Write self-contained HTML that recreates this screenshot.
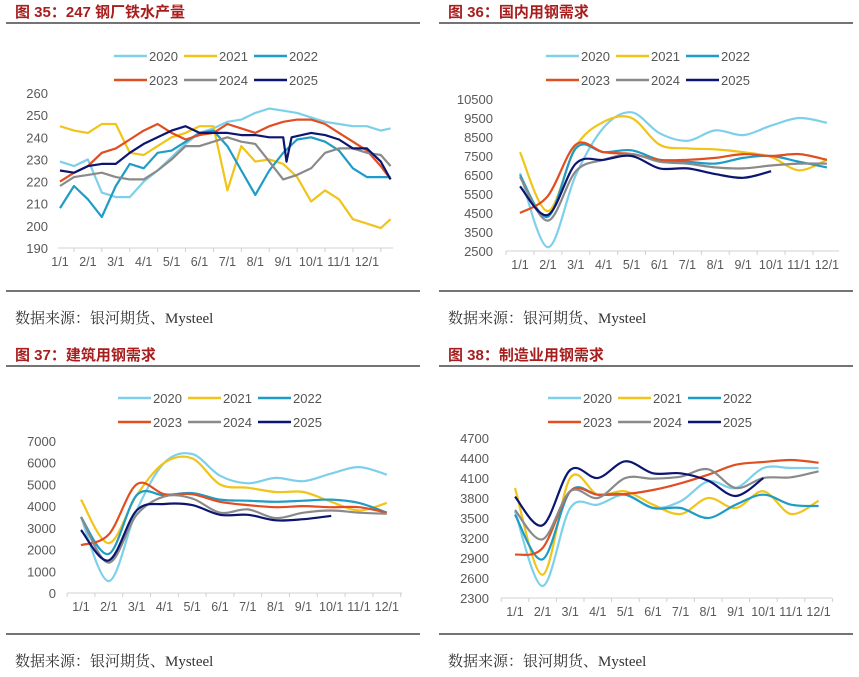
<!DOCTYPE html>
<html><head><meta charset="utf-8">
<style>
body{margin:0;background:#fff;width:859px;height:677px;overflow:hidden;font-family:"Liberation Sans","Noto Sans CJK SC",sans-serif}
svg{position:absolute;left:0;top:0}
</style></head><body>
<svg id="s" width="859" height="677" xmlns="http://www.w3.org/2000/svg"></svg>
<script>
// ---- data ----
const years = ["2020","2021","2022","2023","2024","2025"];
const colors = ["#7ED0EA","#F0C419","#1F9CC6","#E04E21","#8A8A8A","#0C1570"];
const monthLabels = ["1/1","2/1","3/1","4/1","5/1","6/1","7/1","8/1","9/1","10/1","11/1","12/1"];
// Panel 1 (half-month positions, in month units)
const p1X = [0,0.5,1,1.5,2,2.5,3,3.5,4,4.5,5,5.5,6,6.5,7,7.5,8,8.5,9,9.5,10,10.5,11,11.5,11.85];
const p1X25 = [0,0.5,1,1.5,2,2.5,3,3.5,4,4.5,5,5.5,6,6.5,7,7.5,8,8.12,8.3,9,9.5,10,10.5,11,11.5,11.85];
const p1_2020 = [229,227,230,215,213,213,220,225,231,237,242,244,247,248,251,253,252,251,249,247,246,245,245,243,244];
const p1_2021 = [245,243,242,246,246,233,232,236,240,242,245,245,216,236,229,230,228,222,211,216,212,203,201,199,203];
const p1_2022 = [208,218,212,204,218,228,226,233,234,238,242,243,236,225,214,225,233,239,240,238,234,226,222,222,222];
const p1_2023 = [220,224,227,233,235,239,243,246,242,239,241,242,246,244,242,245,247,248,248,246,242,238,234,227,221];
const p1_2024 = [218,222,223,224,222,221,221,225,230,236,236,238,240,238,237,229,221,223,226,233,235,235,233,232,227];
const p1_2025 = [225,224,227,228,228,233,237,240,243,245,242,242,242,241,241,240,240,229,240,242,241,239,235,235,229,221];
const p1Ticks = [190,200,210,220,230,240,250,260];
// Panel 2
const p2_2020 = [6600,2700,6500,9000,9800,8700,8300,8850,8600,9100,9500,9250];
const p2_2021 = [7700,4600,8000,9300,9500,8100,7900,7850,7700,7450,6750,7300];
const p2_2022 = [6500,4300,7900,7700,7800,7300,7200,7100,7400,7500,7200,6900];
const p2_2023 = [4500,5400,8100,7700,7600,7300,7300,7400,7600,7500,7600,7300];
const p2_2024 = [6400,4100,6700,7300,7600,7200,7100,6900,6850,7000,7100,7100];
const p2_2025 = [5900,4400,7100,7300,7500,6850,6850,6550,6350,6700];
const p2Ticks = [2500,3500,4500,5500,6500,7500,8500,9500,10500];
// Panel 3
const p3_2020 = [3500,550,3800,6000,6400,5400,5050,5300,5150,5500,5800,5450];
const p3_2021 = [4300,2300,4500,6000,6200,5000,4850,4650,4650,4200,3800,4150];
const p3_2022 = [3500,1800,4500,4500,4600,4300,4250,4200,4250,4300,4150,3700];
const p3_2023 = [2200,2700,5000,4550,4550,4200,4050,3950,4000,3950,3950,3700];
const p3_2024 = [3500,1400,3600,4450,4350,3700,3850,3450,3700,3800,3700,3650];
const p3_2025 = [2900,1500,3800,4100,4050,3600,3600,3350,3400,3550];
const p3Ticks = [0,1000,2000,3000,4000,5000,6000,7000];
// Panel 4
const p4_2020 = [3600,2480,3650,3700,3850,3650,3750,4050,3950,4250,4250,4250];
const p4_2021 = [3950,2650,4100,3850,3900,3700,3560,3800,3650,3900,3560,3760];
const p4_2022 = [3550,2880,3900,3850,3850,3650,3650,3500,3700,3850,3700,3680];
const p4_2023 = [2950,3050,3900,3850,3860,3920,4020,4150,4300,4340,4370,4330];
const p4_2024 = [3620,3180,3900,3800,4100,4090,4120,4230,3950,4100,4110,4200];
const p4_2025 = [3820,3390,4220,4100,4350,4170,4170,4060,3830,4100];
const p4Ticks = [2300,2600,2900,3200,3500,3800,4100,4400,4700];

const NS="http://www.w3.org/2000/svg";
const svg=document.getElementById('s');
function mk(tag,attrs,parent){const e=document.createElementNS(NS,tag);for(const k in attrs)e.setAttribute(k,attrs[k]);(parent||svg).appendChild(e);return e;}
function txt(x,y,s,attrs,parent){const t=mk('text',Object.assign({x:x,y:y},attrs),parent);t.textContent=s;return t;}

function smoothPath(pts){
  let d='M'+pts[0][0].toFixed(1)+','+pts[0][1].toFixed(1);
  for(let i=0;i<pts.length-1;i++){
    const p0=pts[i-1]||pts[i],p1=pts[i],p2=pts[i+1],p3=pts[i+2]||p2;
    const c1=[p1[0]+(p2[0]-p0[0])/6,p1[1]+(p2[1]-p0[1])/6];
    const c2=[p2[0]-(p3[0]-p1[0])/6,p2[1]-(p3[1]-p1[1])/6];
    d+=' C'+c1[0].toFixed(1)+','+c1[1].toFixed(1)+' '+c2[0].toFixed(1)+','+c2[1].toFixed(1)+' '+p2[0].toFixed(1)+','+p2[1].toFixed(1);
  }
  return d;
}
function linePath(pts){return 'M'+pts.map(p=>p[0].toFixed(1)+','+p[1].toFixed(1)).join(' L');}

function frame(cfg){
  const g=mk('g',{});
  
  
  const t=txt(cfg.left+9,17,cfg.title,{fill:'#A81E1E','font-size':15,'font-weight':'bold'},g);
  
  
  t.setAttribute('transform','translate(0,'+cfg.top+')');
  mk('line',{x1:cfg.left,x2:cfg.left+414,y1:cfg.top+23,y2:cfg.top+23,stroke:'#222','stroke-width':1.2},g);
  mk('line',{x1:cfg.left,x2:cfg.left+414,y1:cfg.top+291,y2:cfg.top+291,stroke:'#222','stroke-width':1.2},g);
  const s=txt(cfg.left+9,cfg.top+323,'数据来源：银河期货、Mysteel',{fill:'#333','font-size':15,'font-family':'"Liberation Serif","Noto Serif CJK SC",serif'},g);
  
  
  const lg=mk('g',{},g);
  
  
  for(let i=0;i<6;i++){
    const col=i%3,row=Math.floor(i/3);
    const lx=cfg.legX+col*70,ly=cfg.legY+row*24;
    const e=mk('g',{},lg);
    
    
    mk('line',{x1:lx,x2:lx+33,y1:ly,y2:ly,stroke:colors[i],'stroke-width':2.5},e);
    txt(lx+35,ly+5,years[i],{fill:'#555','font-size':13},e);
  }
  const yv=v=>cfg.y0-(v-cfg.ticks[0])/(cfg.ticks[cfg.ticks.length-1]-cfg.ticks[0])*(cfg.y0-cfg.y1);
  const xv=m=>cfg.x0+m*cfg.dx;
  const ya=mk('g',{},g);
  
  
  cfg.ticks.forEach(v=>txt(cfg.yLabX,yv(v)+5,String(v),{fill:'#595959','font-size':13,'text-anchor':'end'},ya));
  const xa=mk('g',{},g);
  
  
  mk('line',{x1:cfg.axL,x2:cfg.axR,y1:cfg.y0,y2:cfg.y0,stroke:'#D0D0D0','stroke-width':1},xa);
  for(let i=0;i<=12;i++){const tx=xv(i-0.5);if(tx>=cfg.axL-1&&tx<=cfg.axR+1)mk('line',{x1:tx,x2:tx,y1:cfg.y0,y2:cfg.y0+4,stroke:'#D0D0D0'},xa);}
  monthLabels.forEach((m,i)=>txt(xv(i),cfg.y0+18,m,{fill:'#595959','font-size':12.5,'text-anchor':'middle'},xa));
  return {g,xv,yv};
}

function drawSeries(f,xs,list,smooth,prefix){
  list.forEach((vals,i)=>{
    const pts=vals.map((v,j)=>[f.xv(xs?xs[i][j]:j),f.yv(v)]);
    const p=mk('path',{d:smooth?smoothPath(pts):linePath(pts),fill:'none',stroke:colors[i],'stroke-width':2.2,'stroke-linejoin':'round'},f.g);
    
    
  });
}

const f1=frame({name:'chart-35-hot-metal-output',title:'图 35：247 钢厂铁水产量',left:6,top:0,legX:114,legY:56,ticks:p1Ticks,y0:248,y1:93,x0:60,dx:27.9,axL:58,axR:393,yLabX:48});
drawSeries(f1,[p1X,p1X,p1X,p1X,p1X,p1X25],[p1_2020,p1_2021,p1_2022,p1_2023,p1_2024,p1_2025],false,'hot-metal');

const f2=frame({name:'chart-36-domestic-steel-demand',title:'图 36：国内用钢需求',left:439,top:0,legX:546,legY:56,ticks:p2Ticks,y0:251,y1:99,x0:520,dx:27.9,axL:506,axR:839,yLabX:493});
drawSeries(f2,null,[p2_2020,p2_2021,p2_2022,p2_2023,p2_2024,p2_2025],true,'domestic');

const f3=frame({name:'chart-37-construction-steel-demand',title:'图 37：建筑用钢需求',left:6,top:343,legX:118,legY:398,ticks:p3Ticks,y0:593,y1:441,x0:81,dx:27.8,axL:67,axR:402,yLabX:56});
drawSeries(f3,null,[p3_2020,p3_2021,p3_2022,p3_2023,p3_2024,p3_2025],true,'construction');

const f4=frame({name:'chart-38-manufacturing-steel-demand',title:'图 38：制造业用钢需求',left:439,top:343,legX:548,legY:398,ticks:p4Ticks,y0:598,y1:438,x0:515,dx:27.6,axL:501,axR:832,yLabX:489});
drawSeries(f4,null,[p4_2020,p4_2021,p4_2022,p4_2023,p4_2024,p4_2025],true,'manufacturing');
</script>
</body></html>
